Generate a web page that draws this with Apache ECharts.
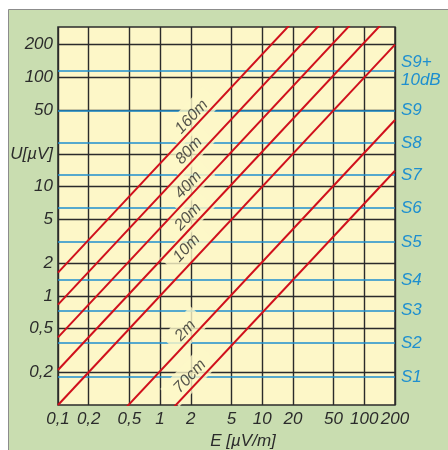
<!DOCTYPE html>
<html lang="de">
<head>
<meta charset="utf-8">
<style>
  html, body { margin: 0; height: 100%; background: #fff; }
  #chart { width: 448px; height: 450px; }
</style>
</head>
<body>
<div id="chart"></div>
<script src="https://cdn.jsdelivr.net/npm/echarts@6/dist/echarts.min.js"></script>
<script>
// x: field strength E [µV/m], y: voltage U [µV], both log
var xTicks = [0.1, 0.2, 0.5, 1, 2, 5, 10, 20, 50, 100, 200];
var yTicks = [0.2, 0.5, 1, 2, 5, 10, 20, 50, 100, 200];

// S-meter levels (blue lines)
var sNames = ['S9+\n10dB', 'S9', 'S8', 'S7', 'S6', 'S5', 'S4', 'S3', 'S2', 'S1'];
var sLevels = [115, 50, 25, 12.8, 6.4, 3.1, 1.4, 0.73, 0.37, 0.18];

// bands: U in µV at E = 1 µV/m
var bands = ['160m', '80m', '40m', '20m', '10m', '2m', '70cm'];
var bandRatio = [16.3, 8.3, 4.16, 2.09, 1.0, 0.204, 0.07];
// where each band name sits (E, U)
var labelE = [2.04, 1.92, 1.89, 1.88, 1.82, 1.77, 1.96];
var labelU = [43.7, 21.4, 10.4, 5.28, 2.73, 0.48, 0.183];

var FONT = "'Liberation Sans Narrow', 'Liberation Sans', Arial, sans-serif";
var INK = '#2b2b2b';
var BLUE = '#1e8fcf';
var RED = '#d0101c';
var PAPER = '#fdf7c8';

function num(v) {
  return String(+v.toPrecision(6)).replace('.', ',');
}

var chart = echarts.init(document.getElementById('chart'), null, { renderer: 'canvas' });

var gridLines = [];
xTicks.forEach(function (v) { gridLines.push({ xAxis: v }); });
yTicks.forEach(function (v) { gridLines.push({ yAxis: v }); });

var series = [
  {
    type: 'line', data: [], silent: true,
    markLine: {
      z: 1, silent: true, symbol: 'none', animation: false,
      label: { show: false },
      lineStyle: { color: INK, width: 1.4, type: 'solid' },
      data: gridLines
    }
  },
  {
    type: 'line', data: [], silent: true,
    markLine: {
      z: 2, silent: true, symbol: 'none', animation: false,
      lineStyle: { color: BLUE, width: 1.5, type: 'solid' },
      label: {
        show: true, position: 'end', distance: 6, formatter: '{b}',
        color: BLUE, fontSize: 17, fontStyle: 'italic', fontFamily: FONT,
        lineHeight: 18, align: 'left'
      },
      data: sLevels.map(function (v, i) { return { yAxis: v, name: sNames[i] }; })
    }
  },
  {
    type: 'scatter', z: 3, silent: true, symbolSize: 0,
    data: bands.map(function (b, i) { return { name: b, value: [labelE[i], labelU[i]] }; }),
    label: {
      show: true, position: 'inside', formatter: '{b}', rotate: 47,
      backgroundColor: PAPER, padding: [5, 10],
      color: INK, fontSize: 16, fontStyle: 'italic', fontFamily: FONT
    }
  }
];

bands.forEach(function (b, i) {
  var r = bandRatio[i];
  var e0 = xTicks[0], e1 = xTicks[xTicks.length - 1];
  series.push({
    name: b, type: 'line', z: 4, silent: true, symbol: 'none', clip: true,
    lineStyle: { color: RED, width: 2 },
    data: [[e0, e0 * r], [e1, e1 * r]]
  });
});

var labelFont = { color: INK, fontSize: 17, fontStyle: 'italic', fontFamily: FONT };

function xAxisBase(values) {
  return {
    type: 'log', logBase: 10, min: 0.1, max: 200.001, position: 'bottom',
    axisLine: { show: false }, axisTick: { show: false }, splitLine: { show: false },
    axisLabel: Object.assign({
      customValues: values, margin: 6,
      formatter: function (v) { return num(v); }
    }, labelFont)
  };
}

// last x label sits on its own axis so the overlap check keeps "100" and "200"
var xMain = xAxisBase(xTicks.slice(0, -1));
xMain.name = 'E [µV/m]';
xMain.nameLocation = 'middle';
xMain.nameGap = 24;
xMain.nameTextStyle = Object.assign({ padding: [0, 0, 0, 33] }, labelFont);
var xEnd = xAxisBase(xTicks.slice(-1));

var option = {
  backgroundColor: '#fff',
  animation: false,
  graphic: [{
    type: 'rect', z: -10, silent: true,
    shape: { x: 8.5, y: 9.5, width: 450, height: 450 },
    style: { fill: '#c9ddb0', stroke: '#8c8c8c', lineWidth: 1 }
  }],
  grid: {
    left: 58, top: 27, width: 337, height: 378,
    outerBoundsMode: 'none', containLabel: false,
    show: true, backgroundColor: PAPER, borderColor: INK, borderWidth: 1.5
  },
  xAxis: [xMain, xEnd],
  yAxis: {
    type: 'log', logBase: 10, min: 0.1, max: 290,
    axisLine: { show: false }, axisTick: { show: false }, splitLine: { show: false },
    axisLabel: Object.assign({
      customValues: yTicks, margin: 5,
      formatter: function (v) { return Math.abs(v - 20) < 1e-6 ? 'U[µV]' : num(v); }
    }, labelFont)
  },
  series: series
};

chart.setOption(option);
window.addEventListener('resize', chart.resize);
</script>
</body>
</html>
